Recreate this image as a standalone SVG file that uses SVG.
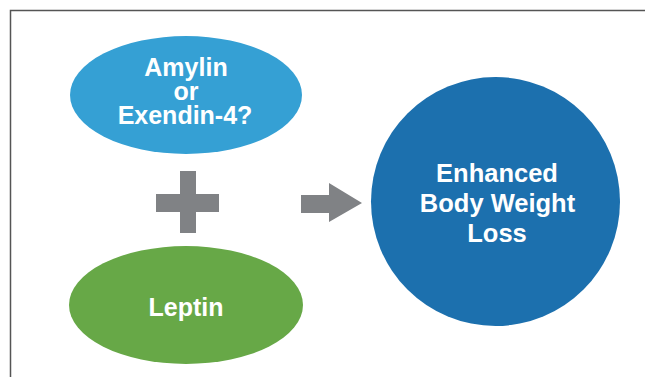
<svg xmlns="http://www.w3.org/2000/svg" width="645" height="377" viewBox="0 0 645 377">
<style>
.lbl{font-family:"Liberation Sans",Arial,sans-serif;font-weight:bold;fill:#ffffff;text-anchor:middle}
.sym{fill:#808285}
</style>
<rect x="0" y="0" width="645" height="377" fill="#ffffff"/>
<path d="M10.5 377 V10.5 H645" fill="none" stroke="#555555" stroke-width="1.5"/>
<g id="amylin">
<ellipse cx="186" cy="95" rx="116" ry="59" fill="#35A0D4"/>
<text class="lbl" font-size="25" x="186" y="76">Amylin</text>
<text class="lbl" font-size="25" x="186" y="100">or</text>
<text class="lbl" font-size="25" x="185" y="124">Exendin-4?</text>
</g>
<g id="leptin">
<ellipse cx="186" cy="305" rx="117" ry="59" fill="#67A847"/>
<text class="lbl" font-size="25" x="186" y="316">Leptin</text>
</g>
<g id="result">
<circle cx="495.5" cy="201.5" r="124.5" fill="#1C70AE"/>
<text class="lbl" font-size="25.5" x="497" y="182">Enhanced</text>
<text class="lbl" font-size="25.5" x="497.5" y="212">Body Weight</text>
<text class="lbl" font-size="25.5" x="497" y="241.5">Loss</text>
</g>
<g id="connectors">
<path class="sym" d="M180 171 H196 V194 H219 V212 H196 V233 H180 V212 H156 V194 H180 Z"/>
<path class="sym" d="M301 195 H329 V183 L362 203 L329 222 V213 H301 Z"/>
</g>
</svg>
